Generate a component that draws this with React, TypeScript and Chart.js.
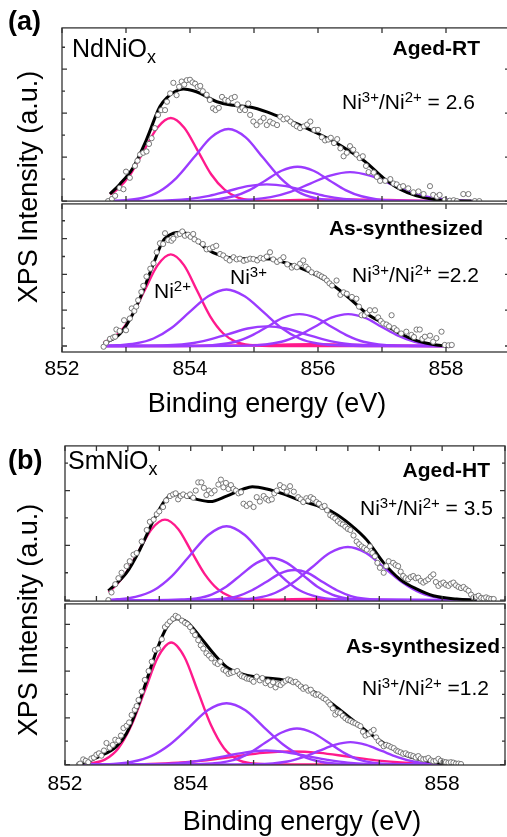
import React, { useEffect, useRef } from 'react';
import { Chart, registerables } from 'chart.js';

Chart.register(...registerables);

type P = [number, number];

const FONT = '"Liberation Sans", Arial, Helvetica, sans-serif';
const MAGENTA = '#ff1a8c';
const PURPLE = '#9b3bff';

// ---------- ticks ----------
const X_TICKS_WHOLE = [852, 853, 854, 855, 856, 857, 858, 859];
const X_TICKS_HALF = [852, 852.5, 853, 853.5, 854, 854.5, 855, 855.5, 856, 856.5, 857, 857.5, 858, 858.5, 859];
const X_TICK_LABELS = [852, 854, 856, 858];
const Y_TICKS_A_TOP = [0, 0.5, 1, 1.5, 2, 2.5, 3, 3.5];
const Y_TICKS_A_BOT = [0, 0.5, 1, 1.5, 2, 2.5, 3, 3.5];
const Y_TICKS_B_TOP = [0, 0.5, 1, 1.5, 2, 2.5];
const Y_TICKS_B_BOT = [0, 0.5, 1, 1.5, 2, 2.5, 3];

// ---------- (a) NdNiOx, Aged-RT ----------
const A_TOP_SCATTER: P[] = [[852.72,0.00],[852.78,0.05],[852.83,0.12],[852.90,0.30],[852.96,0.27],[853.00,0.67],[853.06,0.53],[853.14,0.80],[853.18,0.92],[853.22,1.06],[853.27,1.10],[853.32,1.13],[853.36,1.30],[853.40,1.43],[853.45,1.66],[853.50,1.96],[853.55,2.07],[853.61,2.07],[853.64,2.26],[853.69,2.45],[853.74,2.69],[853.79,2.41],[853.83,2.60],[853.87,2.72],[853.91,2.65],[853.95,2.75],[854.00,2.76],[854.04,2.70],[854.08,2.67],[854.12,2.60],[854.16,2.62],[854.20,2.50],[854.26,2.42],[854.31,2.30],[854.36,2.11],[854.40,2.07],[854.45,2.12],[854.50,2.37],[854.55,2.30],[854.60,2.28],[854.65,2.34],[854.70,2.37],[854.74,2.20],[854.78,2.07],[854.82,2.12],[854.86,2.07],[854.91,2.22],[854.94,1.96],[854.99,1.81],[855.04,1.73],[855.10,1.81],[855.15,1.89],[855.20,1.73],[855.25,1.81],[855.30,1.77],[855.36,1.73],[855.41,1.92],[855.46,1.86],[855.52,1.88],[855.57,1.81],[855.62,1.75],[855.67,1.70],[855.72,1.66],[855.78,1.70],[855.83,1.74],[855.88,1.81],[855.94,1.62],[856.00,1.62],[856.06,1.45],[856.11,1.38],[856.16,1.40],[856.20,1.44],[856.25,1.32],[856.30,1.41],[856.35,1.20],[856.40,1.02],[856.45,1.10],[856.50,1.25],[856.55,1.17],[856.60,1.06],[856.65,0.98],[856.70,1.02],[856.75,0.80],[856.79,0.66],[856.87,0.65],[856.92,0.55],[856.97,0.46],[857.05,0.46],[857.13,0.50],[857.18,0.40],[857.23,0.38],[857.28,0.32],[857.33,0.34],[857.41,0.29],[857.49,0.20],[857.57,0.22],[857.65,0.16],[857.75,0.34],[857.80,0.14],[857.86,0.10],[857.90,0.14],[857.98,0.03],[858.06,0.01],[858.12,0.02],[858.17,0.00],[858.27,0.16],[858.35,0.16],[858.45,0.00],[858.52,0.00]];
const A_TOP_FIT: P[] = [[852.75,0.16],[852.9,0.38],[853.11,0.76],[853.32,1.40],[853.53,2.15],[853.66,2.38],[853.74,2.47],[853.9,2.55],[854.05,2.51],[854.16,2.45],[854.42,2.26],[854.68,2.18],[854.94,2.14],[855.2,2.03],[855.46,1.88],[855.72,1.73],[855.98,1.55],[856.24,1.36],[856.5,1.13],[856.76,0.87],[857.02,0.53],[857.28,0.27],[857.54,0.12],[857.85,0.03],[858.2,0.0],[858.4,0]];
const A_TOP_NI2: P[] = [[852.75,0.15],[852.86,0.26],[853.07,0.61],[853.28,1.15],[853.49,1.67],[853.70,1.89],[853.91,1.67],[854.12,1.15],[854.33,0.61],[854.54,0.26],[854.75,0.08],[854.96,0.02],[855.4,0],[858.4,0]];
const A_TOP_NI2_SAT: P[] = [[852.75,0],[854.3,0],[855.0,0.005],[855.7,0.024],[856.4,0.04],[857.1,0.024],[857.8,0.005],[858.4,0]];
const A_TOP_NI3_1: P[] = [[852.75,0.005],[852.98,0.02],[853.25,0.07],[853.52,0.22],[853.79,0.53],[854.06,0.99],[854.33,1.45],[854.60,1.64],[854.87,1.45],[855.14,0.99],[855.41,0.53],[855.68,0.22],[855.95,0.07],[856.22,0.02],[856.8,0],[858.4,0]];
const A_TOP_NI3_2: P[] = [[852.75,0],[853.4,0.004],[854.0,0.05],[854.3,0.12],[854.6,0.23],[854.9,0.34],[855.2,0.38],[855.5,0.34],[855.8,0.23],[856.1,0.12],[856.4,0.05],[857.0,0.004],[858.4,0]];
const A_TOP_NI3_3: P[] = [[852.75,0],[853.7,0],[854.18,0.01],[854.68,0.11],[854.93,0.25],[855.18,0.47],[855.43,0.69],[855.68,0.78],[855.93,0.69],[856.18,0.47],[856.43,0.25],[856.68,0.11],[857.18,0.01],[858.4,0]];
const A_TOP_NI3_4: P[] = [[852.75,0],[853.9,0],[854.64,0.01],[855.26,0.09],[855.57,0.21],[855.88,0.40],[856.19,0.58],[856.5,0.66],[856.81,0.58],[857.12,0.40],[857.43,0.21],[857.74,0.09],[858.05,0.03],[858.4,0.005]];

// ---------- (a) NdNiOx, As-synthesized ----------
const A_BOT_SCATTER: P[] = [[852.65,-0.02],[852.69,0.09],[852.75,0.20],[852.80,0.24],[852.83,0.26],[852.85,0.46],[852.90,0.42],[852.97,0.72],[853.00,0.44],[853.06,0.77],[853.09,1.05],[853.13,0.98],[853.16,1.10],[853.19,1.28],[853.24,1.51],[853.27,1.68],[853.32,1.94],[853.38,2.16],[853.43,2.31],[853.48,2.62],[853.53,2.87],[853.58,2.85],[853.61,3.15],[853.66,2.96],[853.71,2.94],[853.74,3.00],[853.80,3.11],[853.84,3.13],[853.88,3.20],[853.92,3.08],[853.97,3.11],[854.01,3.05],[854.05,3.13],[854.07,2.98],[854.13,2.92],[854.20,2.85],[854.26,2.70],[854.31,2.72],[854.36,2.76],[854.41,2.80],[854.47,2.57],[854.52,2.53],[854.57,2.45],[854.62,2.39],[854.68,2.48],[854.73,2.42],[854.78,2.44],[854.84,2.38],[854.89,2.41],[854.94,2.44],[854.99,2.43],[855.05,2.39],[855.10,2.46],[855.15,2.44],[855.20,2.50],[855.25,2.62],[855.30,2.42],[855.36,2.35],[855.41,2.40],[855.46,2.48],[855.52,2.28],[855.59,2.19],[855.63,2.24],[855.67,2.20],[855.72,2.30],[855.77,2.39],[855.81,2.22],[855.85,2.15],[855.90,2.06],[855.98,2.02],[856.02,1.98],[856.06,1.94],[856.10,1.90],[856.14,1.83],[856.18,1.75],[856.22,1.69],[856.29,1.83],[856.35,1.43],[856.40,1.50],[856.45,1.46],[856.53,1.37],[856.60,1.32],[856.64,1.10],[856.68,0.86],[856.73,0.86],[856.77,0.93],[856.81,1.00],[856.89,1.00],[856.94,0.80],[856.98,0.70],[857.02,0.63],[857.07,0.60],[857.11,0.55],[857.15,0.86],[857.19,0.50],[857.23,0.44],[857.30,0.35],[857.38,0.40],[857.46,0.31],[857.50,0.25],[857.54,0.46],[857.59,0.46],[857.63,0.20],[857.67,0.26],[857.75,0.29],[857.80,0.12],[857.85,0.22],[857.93,0.40],[857.98,0.03],[858.04,0.02],[858.09,0.03]];
const A_BOT_FIT: P[] = [[852.65,0.06],[852.91,0.35],[853.11,0.91],[853.27,1.56],[853.43,2.30],[853.58,2.94],[853.74,3.15],[853.87,3.18],[854.05,3.04],[854.26,2.71],[854.47,2.53],[854.68,2.45],[854.89,2.44],[855.1,2.44],[855.25,2.43],[855.46,2.34],[855.72,2.18],[855.98,1.97],[856.24,1.69],[856.5,1.32],[856.76,0.91],[857.02,0.63],[857.28,0.35],[857.54,0.15],[857.85,0.03],[858.1,0]];
const A_BOT_NI2: P[] = [[852.65,0.09],[852.88,0.35],[853.085,0.83],[853.29,1.55],[853.495,2.26],[853.70,2.56],[853.905,2.26],[854.11,1.55],[854.315,0.83],[854.52,0.35],[854.725,0.11],[854.93,0.03],[855.4,0],[858.1,0]];
const A_BOT_NI2_SAT: P[] = [[852.65,0],[853.8,0],[854.5,0.007],[855.2,0.03],[855.9,0.05],[856.6,0.03],[857.3,0.007],[858.1,0]];
const A_BOT_NI3_1: P[] = [[852.65,0.005],[852.86,0.02],[853.145,0.07],[853.43,0.21],[853.715,0.51],[854.0,0.96],[854.285,1.39],[854.57,1.58],[854.855,1.39],[855.14,0.96],[855.425,0.51],[855.71,0.21],[855.995,0.07],[856.28,0.02],[856.9,0],[858.1,0]];
const A_BOT_NI3_2: P[] = [[852.65,0],[853.4,0.006],[854.0,0.07],[854.3,0.18],[854.6,0.33],[854.9,0.49],[855.2,0.55],[855.5,0.49],[855.8,0.33],[856.1,0.18],[856.4,0.07],[857.0,0.006],[858.1,0]];
const A_BOT_NI3_3: P[] = [[852.65,0],[853.7,0],[854.21,0.01],[854.71,0.12],[854.96,0.29],[855.21,0.54],[855.46,0.79],[855.71,0.89],[855.96,0.79],[856.21,0.54],[856.46,0.29],[856.71,0.12],[857.21,0.01],[858.1,0]];
const A_BOT_NI3_4: P[] = [[852.65,0],[854.0,0],[854.91,0.01],[855.43,0.12],[855.69,0.29],[855.95,0.54],[856.21,0.79],[856.47,0.89],[856.73,0.79],[856.99,0.54],[857.25,0.29],[857.51,0.12],[857.77,0.04],[858.1,0.005]];

// ---------- (b) SmNiOx, Aged-HT ----------
const B_TOP_SCATTER: P[] = [[852.69,0.00],[852.74,0.14],[852.80,0.29],[852.85,0.40],[852.90,0.50],[852.98,0.62],[853.03,0.71],[853.09,0.83],[853.14,0.86],[853.22,1.07],[853.30,1.28],[853.35,1.43],[853.41,1.47],[853.46,1.57],[853.50,1.62],[853.56,1.70],[853.61,1.82],[853.67,1.90],[853.72,1.93],[853.76,1.95],[853.80,1.84],[853.84,1.90],[853.88,1.93],[853.94,1.90],[853.99,1.93],[854.04,1.87],[854.08,2.00],[854.12,2.15],[854.17,2.15],[854.21,2.05],[854.25,1.92],[854.29,2.00],[854.33,1.95],[854.38,2.00],[854.44,2.11],[854.48,2.20],[854.52,2.06],[854.56,2.14],[854.60,2.03],[854.64,2.10],[854.68,2.03],[854.72,2.00],[854.76,1.95],[854.80,1.97],[854.84,1.76],[854.89,1.72],[854.94,1.76],[855.00,1.70],[855.05,1.88],[855.10,1.80],[855.16,1.90],[855.20,1.85],[855.24,1.82],[855.29,1.84],[855.33,1.95],[855.37,2.00],[855.42,2.10],[855.48,2.06],[855.53,1.98],[855.58,2.08],[855.64,1.98],[855.71,1.88],[855.75,1.84],[855.79,1.79],[855.84,1.86],[855.87,1.82],[855.91,1.88],[855.95,1.85],[856.00,1.79],[856.04,1.76],[856.09,1.70],[856.13,1.72],[856.17,1.64],[856.22,1.55],[856.26,1.52],[856.30,1.49],[856.34,1.44],[856.38,1.40],[856.42,1.38],[856.46,1.34],[856.50,1.30],[856.54,1.28],[856.59,1.18],[856.64,1.07],[856.68,1.02],[856.72,0.98],[856.76,0.95],[856.80,0.92],[856.85,0.98],[856.89,0.86],[856.93,0.80],[856.97,0.68],[857.01,0.59],[857.07,0.50],[857.11,0.62],[857.15,0.71],[857.22,0.68],[857.26,0.64],[857.30,0.62],[857.34,0.52],[857.38,0.44],[857.42,0.40],[857.46,0.38],[857.50,0.42],[857.54,0.44],[857.58,0.40],[857.62,0.41],[857.66,0.35],[857.70,0.32],[857.74,0.35],[857.78,0.38],[857.82,0.43],[857.86,0.47],[857.90,0.33],[857.94,0.26],[857.98,0.30],[858.02,0.32],[858.06,0.28],[858.10,0.26],[858.14,0.30],[858.18,0.32],[858.22,0.27],[858.26,0.24],[858.30,0.22],[858.34,0.24],[858.38,0.20],[858.42,0.17],[858.46,0.10],[858.50,0.05],[858.54,0.06],[858.58,0.08],[858.62,0.04],[858.66,0.03],[858.70,0.05],[858.74,0.03],[858.78,0.02],[858.82,0.02]];
const B_TOP_FIT: P[] = [[852.69,0.17],[852.98,0.5],[853.19,0.92],[853.41,1.46],[853.59,1.82],[853.72,1.93],[853.88,1.91],[854.1,1.84],[854.31,1.80],[854.57,1.90],[854.84,2.03],[854.98,2.07],[855.21,2.03],[855.47,1.94],[855.74,1.82],[856.0,1.73],[856.27,1.60],[856.54,1.38],[856.8,1.10],[857.07,0.68],[857.33,0.38],[857.6,0.2],[857.86,0.08],[858.23,0.02],[858.55,0]];
const B_TOP_NI2: P[] = [[852.69,0.15],[852.75,0.2],[852.96,0.48],[853.17,0.89],[853.38,1.30],[853.59,1.47],[853.80,1.30],[854.01,0.89],[854.22,0.48],[854.43,0.2],[854.64,0.06],[854.85,0.02],[855.3,0],[858.55,0]];
const B_TOP_NI2_SAT: P[] = [[852.69,0],[854.5,0],[855.2,0.006],[855.9,0.02],[856.6,0.006],[857.3,0],[858.55,0]];
const B_TOP_NI3_1: P[] = [[852.69,0.007],[852.83,0.015],[853.12,0.06],[853.41,0.18],[853.70,0.44],[853.99,0.82],[854.28,1.19],[854.57,1.35],[854.86,1.19],[855.15,0.82],[855.44,0.44],[855.73,0.18],[856.02,0.06],[856.31,0.015],[856.9,0],[858.55,0]];
const B_TOP_NI3_2: P[] = [[852.69,0],[853.4,0],[853.85,0.01],[854.09,0.03],[854.33,0.10],[854.57,0.25],[854.81,0.47],[855.05,0.68],[855.29,0.77],[855.53,0.68],[855.77,0.47],[856.01,0.25],[856.25,0.10],[856.49,0.03],[856.73,0.01],[858.55,0]];
const B_TOP_NI3_3: P[] = [[852.69,0],[853.8,0],[854.3,0.006],[854.525,0.024],[854.75,0.074],[854.975,0.18],[855.2,0.33],[855.425,0.49],[855.65,0.55],[855.875,0.49],[856.1,0.33],[856.325,0.18],[856.55,0.074],[856.775,0.024],[857.0,0.006],[858.55,0]];
const B_TOP_NI3_4: P[] = [[852.69,0],[854.2,0],[854.76,0.01],[855.05,0.04],[855.34,0.13],[855.63,0.32],[855.92,0.59],[856.21,0.86],[856.5,0.97],[856.79,0.86],[857.08,0.59],[857.37,0.32],[857.66,0.13],[857.95,0.04],[858.24,0.01],[858.55,0.002]];

// ---------- (b) SmNiOx, As-synthesized ----------
const B_BOT_SCATTER: P[] = [[852.22,0.00],[852.24,0.02],[852.29,0.11],[852.33,0.08],[852.37,0.05],[852.42,0.13],[852.46,0.15],[852.50,0.21],[852.54,0.24],[852.58,0.19],[852.62,0.30],[852.66,0.46],[852.71,0.36],[852.76,0.42],[852.80,0.53],[852.85,0.51],[852.89,0.62],[852.93,0.78],[852.98,0.83],[853.02,0.90],[853.06,1.06],[853.11,1.17],[853.14,1.25],[853.17,1.38],[853.22,1.56],[853.27,1.81],[853.33,2.00],[853.38,2.20],[853.43,2.45],[853.48,2.48],[853.54,2.68],[853.59,2.94],[853.63,3.00],[853.67,3.06],[853.72,3.12],[853.76,3.18],[853.80,3.15],[853.86,3.08],[853.91,3.03],[853.95,3.00],[853.99,2.94],[854.03,2.85],[854.07,2.77],[854.12,2.66],[854.16,2.55],[854.20,2.48],[854.25,2.38],[854.29,2.33],[854.33,2.27],[854.39,2.18],[854.43,2.15],[854.47,2.20],[854.52,2.03],[854.56,2.00],[854.60,1.94],[854.64,1.96],[854.68,1.98],[854.74,2.00],[854.78,1.93],[854.81,1.89],[854.85,1.87],[854.89,1.84],[854.93,1.83],[854.97,1.81],[855.00,1.77],[855.05,1.88],[855.10,1.80],[855.14,1.85],[855.19,1.74],[855.23,1.78],[855.27,1.70],[855.31,1.76],[855.35,1.65],[855.39,1.72],[855.43,1.70],[855.47,1.75],[855.51,1.79],[855.55,1.82],[855.59,1.80],[855.63,1.76],[855.67,1.77],[855.71,1.72],[855.75,1.67],[855.79,1.62],[855.83,1.65],[855.87,1.58],[855.91,1.60],[855.95,1.52],[855.99,1.49],[856.03,1.50],[856.07,1.46],[856.11,1.42],[856.15,1.39],[856.19,1.33],[856.22,1.28],[856.26,1.20],[856.30,1.07],[856.34,1.12],[856.38,1.10],[856.42,1.04],[856.46,0.99],[856.50,0.95],[856.54,0.93],[856.58,0.90],[856.62,0.88],[856.66,0.85],[856.70,0.82],[856.74,0.70],[856.78,0.62],[856.83,0.65],[856.87,0.70],[856.91,0.74],[856.95,0.58],[856.99,0.50],[857.03,0.45],[857.07,0.39],[857.11,0.42],[857.15,0.40],[857.19,0.37],[857.23,0.35],[857.27,0.30],[857.30,0.28],[857.34,0.26],[857.38,0.23],[857.42,0.24],[857.46,0.21],[857.50,0.20],[857.54,0.18],[857.58,0.15],[857.62,0.18],[857.66,0.13],[857.70,0.11],[857.74,0.12],[857.78,0.14],[857.82,0.09],[857.86,0.07],[857.90,0.08],[857.94,0.12],[857.98,0.08],[858.02,0.06],[858.06,0.05],[858.10,0.04],[858.14,0.05],[858.18,0.04],[858.22,0.02],[858.26,0.02],[858.30,0.01]];
const B_BOT_FIT: P[] = [[852.27,0.02],[852.56,0.18],[852.82,0.39],[852.98,0.67],[853.14,1.17],[853.3,1.81],[853.46,2.45],[853.62,2.94],[853.78,3.12],[853.94,3.05],[854.15,2.73],[854.36,2.38],[854.57,2.09],[854.79,1.95],[855.05,1.87],[855.3,1.84],[855.47,1.81],[855.74,1.70],[856.0,1.53],[856.27,1.28],[856.54,0.99],[856.8,0.71],[857.07,0.46],[857.33,0.25],[857.6,0.12],[857.92,0.04],[858.15,0]];
const B_BOT_NI2: P[] = [[852.27,0.01],[852.43,0.03],[852.64,0.11],[852.85,0.35],[853.06,0.85],[853.27,1.58],[853.48,2.30],[853.69,2.61],[853.90,2.30],[854.11,1.58],[854.32,0.85],[854.53,0.35],[854.74,0.11],[854.95,0.03],[855.5,0],[858.15,0]];
const B_BOT_NI2_SAT: P[] = [[852.27,0.001],[852.9,0.003],[853.35,0.012],[853.8,0.038],[854.25,0.09],[854.7,0.17],[855.15,0.25],[855.6,0.28],[856.05,0.25],[856.5,0.17],[856.95,0.09],[857.4,0.038],[857.85,0.012],[858.15,0.005]];
const B_BOT_NI3_1: P[] = [[852.27,0.001],[852.77,0.015],[853.07,0.06],[853.37,0.18],[853.67,0.43],[853.97,0.79],[854.27,1.16],[854.57,1.31],[854.87,1.16],[855.17,0.79],[855.47,0.43],[855.77,0.18],[856.07,0.06],[856.37,0.015],[857.0,0],[858.15,0]];
const B_BOT_NI3_2: P[] = [[852.27,0],[853.25,0.003],[853.9,0.04],[854.225,0.10],[854.55,0.18],[854.875,0.26],[855.2,0.3],[855.525,0.26],[855.85,0.18],[856.175,0.10],[856.5,0.04],[857.15,0.003],[858.15,0]];
const B_BOT_NI3_3: P[] = [[852.27,0],[853.7,0],[854.19,0.01],[854.69,0.10],[854.94,0.25],[855.19,0.47],[855.44,0.68],[855.69,0.77],[855.94,0.68],[856.19,0.47],[856.44,0.25],[856.69,0.10],[857.19,0.01],[858.15,0]];
const B_BOT_NI3_4: P[] = [[852.27,0],[854.3,0],[855.04,0.005],[855.54,0.065],[855.79,0.16],[856.04,0.29],[856.29,0.42],[856.54,0.48],[856.79,0.42],[857.04,0.29],[857.29,0.16],[857.54,0.065],[857.79,0.02],[858.15,0.002]];

// ---------- chart building ----------
const toXY = (d: P[]) => d.map(([x, y]) => ({ x, y }));

const lineDs = (d: P[], color: string, width: number) => ({
  type: 'line' as const,
  data: toXY(d),
  borderColor: color,
  borderWidth: width,
  pointRadius: 0,
  fill: false,
  cubicInterpolationMode: 'monotone' as const,
});

const framePlugin = {
  id: 'frame',
  afterDraw(chart: any, _args: any, opts: any) {
    const { ctx, chartArea: a, scales } = chart;
    const xs = scales.x;
    const ys = scales.y;
    ctx.save();
    ctx.strokeStyle = '#333';
    ctx.lineWidth = 1.3;
    ctx.strokeRect(a.left, a.top, a.right - a.left, a.bottom - a.top);
    ctx.beginPath();
    for (const v of opts.xTicks as number[]) {
      const px = xs.getPixelForValue(v);
      ctx.moveTo(px, a.bottom);
      ctx.lineTo(px, a.bottom - 5);
      ctx.moveTo(px, a.top);
      ctx.lineTo(px, a.top + 5);
    }
    for (const v of opts.yTicks as number[]) {
      const py = ys.getPixelForValue(v);
      const len = Number.isInteger(v) ? 5 : 3;
      ctx.moveTo(a.left, py);
      ctx.lineTo(a.left + len, py);
      ctx.moveTo(a.right, py);
      ctx.lineTo(a.right - len, py);
    }
    ctx.stroke();
    ctx.restore();
  },
};

interface PlotCfg {
  left: number; top: number; w: number; h: number;
  ymin: number; ymax: number;
  yTicks: number[]; xTicks: number[];
  labels: boolean; labelPad: number;
  scatter: P[]; fit: P[]; ni2: P[][]; ni3: P[][];
}

const PADL = 30, PADR = 8, PADT = 4, PADB = 4, AXIS_H = 40;

function Subplot({ cfg }: { cfg: PlotCfg }) {
  const ref = useRef<HTMLCanvasElement>(null);
  const W = cfg.w + PADL + PADR;
  const H = cfg.h + PADT + PADB + (cfg.labels ? AXIS_H : 0);
  useEffect(() => {
    const datasets: any[] = [
      {
        type: 'line',
        data: toXY(cfg.scatter),
        showLine: false,
        pointRadius: 2.6,
        pointBorderWidth: 0.9,
        pointBorderColor: '#6a6a6a',
        pointBackgroundColor: '#fff',
      },
      lineDs(cfg.fit, '#000', 3),
      ...cfg.ni3.map((d) => lineDs(d, PURPLE, 2.4)),
      ...cfg.ni2.map((d) => lineDs(d, MAGENTA, 2.4)),
    ];
    const chart = new Chart(ref.current!, {
      type: 'line',
      data: { datasets },
      options: {
        animation: false,
        responsive: false,
        events: [],
        layout: { padding: { left: PADL, right: PADR, top: PADT, bottom: PADB } },
        plugins: {
          legend: { display: false },
          tooltip: { enabled: false },
          frame: { xTicks: cfg.xTicks, yTicks: cfg.yTicks },
        } as any,
        scales: {
          x: {
            type: 'linear',
            min: 852,
            max: 859,
            display: cfg.labels,
            position: 'bottom',
            grid: { display: false, drawTicks: false },
            border: { display: false },
            afterBuildTicks: (s: any) => {
              s.ticks = X_TICK_LABELS.map((v) => ({ value: v }));
            },
            afterFit: (s: any) => {
              if (!cfg.labels) return;
              s.height = AXIS_H;
              s.paddingLeft = 0;
              s.paddingRight = 0;
            },
            ticks: {
              autoSkip: false,
              maxRotation: 0,
              padding: cfg.labelPad,
              color: '#000',
              font: { family: FONT, size: 21 },
              callback: (v: any) => String(v),
            },
          },
          y: { type: 'linear', min: cfg.ymin, max: cfg.ymax, display: false },
        },
      } as any,
      plugins: [framePlugin],
    });
    return () => chart.destroy();
  }, []);
  return (
    <canvas
      ref={ref}
      width={W}
      height={H}
      style={{ position: 'absolute', left: cfg.left - PADL, top: cfg.top - PADT, width: W, height: H }}
    />
  );
}

const PLOTS: PlotCfg[] = [
  { left: 62, top: 27, w: 448, h: 175, ymin: 0, ymax: 3.94, yTicks: Y_TICKS_A_TOP, xTicks: X_TICKS_WHOLE, labels: false, labelPad: 0,
    scatter: A_TOP_SCATTER, fit: A_TOP_FIT, ni2: [A_TOP_NI2_SAT, A_TOP_NI2], ni3: [A_TOP_NI3_1, A_TOP_NI3_2, A_TOP_NI3_3, A_TOP_NI3_4] },
  { left: 62, top: 203, w: 448, h: 149, ymin: -0.167, ymax: 3.97, yTicks: Y_TICKS_A_BOT, xTicks: X_TICKS_WHOLE, labels: true, labelPad: 5,
    scatter: A_BOT_SCATTER, fit: A_BOT_FIT, ni2: [A_BOT_NI2_SAT, A_BOT_NI2], ni3: [A_BOT_NI3_1, A_BOT_NI3_2, A_BOT_NI3_3, A_BOT_NI3_4] },
  { left: 65, top: 445, w: 440, h: 157, ymin: -0.018, ymax: 2.816, yTicks: Y_TICKS_B_TOP, xTicks: X_TICKS_HALF, labels: false, labelPad: 0,
    scatter: B_TOP_SCATTER, fit: B_TOP_FIT, ni2: [B_TOP_NI2_SAT, B_TOP_NI2], ni3: [B_TOP_NI3_1, B_TOP_NI3_2, B_TOP_NI3_3, B_TOP_NI3_4] },
  { left: 65, top: 603, w: 440, h: 162, ymin: -0.01, ymax: 3.436, yTicks: Y_TICKS_B_BOT, xTicks: X_TICKS_WHOLE, labels: true, labelPad: 7,
    scatter: B_BOT_SCATTER, fit: B_BOT_FIT, ni2: [B_BOT_NI2_SAT, B_BOT_NI2], ni3: [B_BOT_NI3_1, B_BOT_NI3_2, B_BOT_NI3_3, B_BOT_NI3_4] },
];

// ---------- text helpers ----------
const ASC = 0.8465;

function Txt({ x, base, size, bold, right, center, children }: any) {
  const style: any = {
    position: 'absolute',
    top: base - ASC * size,
    fontSize: size,
    lineHeight: 1,
    fontWeight: bold ? 'bold' : 'normal',
    whiteSpace: 'nowrap',
    color: '#000',
  };
  if (right) style.right = 507 - x;
  else style.left = x;
  if (center) style.transform = 'translateX(-50%)';
  return <div style={style}>{children}</div>;
}

const Sup = ({ children }: any) => (
  <span style={{ fontSize: 15, position: 'relative', top: -7 }}>{children}</span>
);
const Sub = ({ children }: any) => (
  <span style={{ fontSize: 18, position: 'relative', top: 6 }}>{children}</span>
);

function YLabel({ cx, cy }: { cx: number; cy: number }) {
  return (
    <div
      style={{
        position: 'absolute',
        left: cx,
        top: cy,
        fontSize: 27,
        lineHeight: 1,
        whiteSpace: 'nowrap',
        transform: 'translate(-50%, -50%) rotate(-90deg)',
        color: '#000',
      }}
    >
      XPS Intensity (a.u.)
    </div>
  );
}

const Ratio = ({ value }: { value: string }) => (
  <>
    Ni<Sup>3+</Sup>/Ni<Sup>2+</Sup> {value}
  </>
);

export default function App() {
  return (
    <div
      style={{
        position: 'fixed',
        left: 0,
        top: 0,
        width: 507,
        height: 837,
        overflow: 'hidden',
        background: '#fff',
        fontFamily: FONT,
      }}
    >
      {PLOTS.map((p, i) => (
        <Subplot key={i} cfg={p} />
      ))}

      {/* panel (a) */}
      <Txt x={8} base={31} size={27} bold>(a)</Txt>
      <Txt x={72} base={57} size={25}>NdNiO<Sub>x</Sub></Txt>
      <Txt x={480} base={55} size={21} bold right>Aged-RT</Txt>
      <Txt x={342} base={109} size={21}><Ratio value="= 2.6" /></Txt>
      <Txt x={483} base={235} size={21} bold right>As-synthesized</Txt>
      <Txt x={352} base={282} size={21}><Ratio value="=2.2" /></Txt>
      <Txt x={154} base={298} size={21}>Ni<Sup>2+</Sup></Txt>
      <Txt x={230} base={284} size={21}>Ni<Sup>3+</Sup></Txt>
      <Txt x={267} base={413} size={27} center>Binding energy (eV)</Txt>
      <YLabel cx={28} cy={187} />

      {/* panel (b) */}
      <Txt x={8} base={470} size={27} bold>(b)</Txt>
      <Txt x={68} base={469} size={25}>SmNiO<Sub>x</Sub></Txt>
      <Txt x={490} base={477} size={21} bold right>Aged-HT</Txt>
      <Txt x={360} base={515} size={21}><Ratio value="= 3.5" /></Txt>
      <Txt x={500} base={653} size={21} bold right>As-synthesized</Txt>
      <Txt x={362} base={695} size={21}><Ratio value="=1.2" /></Txt>
      <Txt x={302} base={831} size={27} center>Binding energy (eV)</Txt>
      <YLabel cx={28} cy={620} />
    </div>
  );
}
